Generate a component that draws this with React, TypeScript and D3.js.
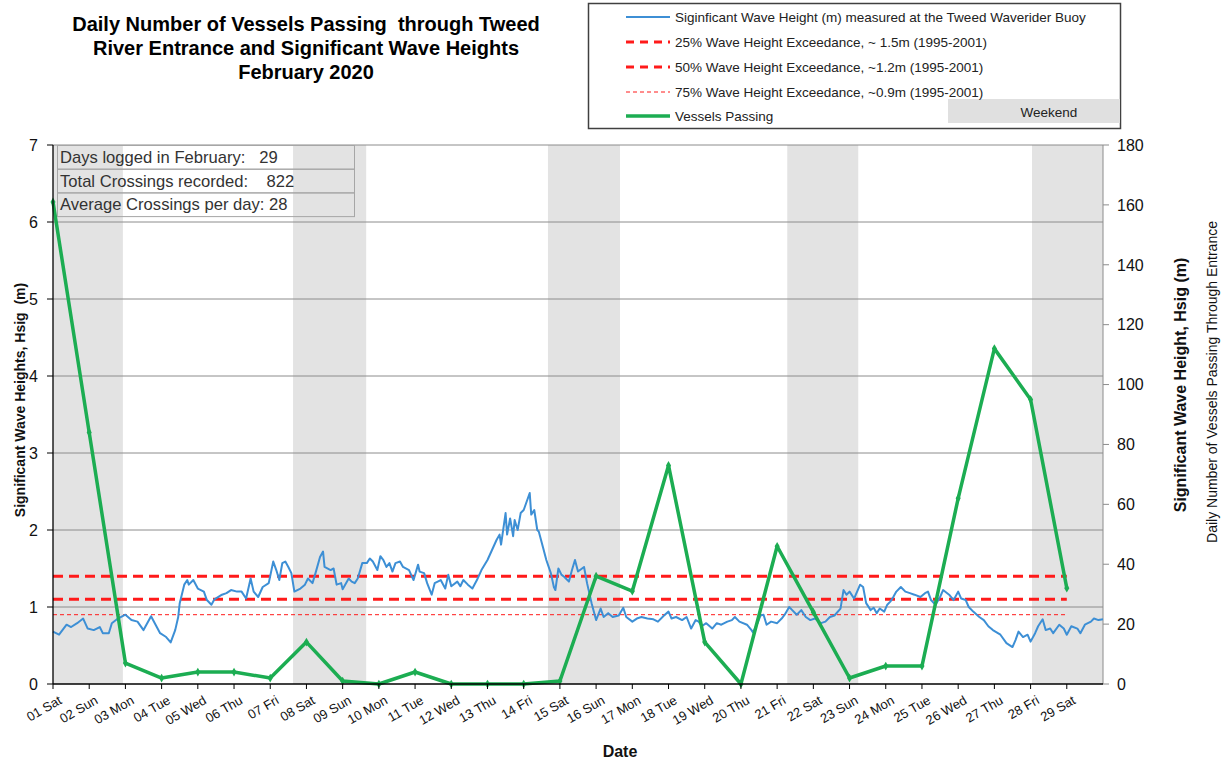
import React, { useEffect, useRef } from "react";
import * as d3 from "d3";

// Day labels for Feb 2020
const dayLabels = [
  "01 Sat", "02 Sun", "03 Mon", "04 Tue", "05 Wed", "06 Thu", "07 Fri",
  "08 Sat", "09 Sun", "10 Mon", "11 Tue", "12 Wed", "13 Thu", "14 Fri",
  "15 Sat", "16 Sun", "17 Mon", "18 Tue", "19 Wed", "20 Thu", "21 Fri",
  "22 Sat", "23 Sun", "24 Mon", "25 Tue", "26 Wed", "27 Thu", "28 Fri",
  "29 Sat",
];

// Daily vessels passing (right axis)
const vessels = [
  161, 84, 7, 2, 4, 4, 2, 14, 1, 0, 4, 0, 0, 0, 1, 36, 31, 73, 14, 0, 46, 24,
  2, 6, 6, 62, 112, 95, 32,
];

// Hsig record: hours since 01 Feb 00:00, height in m
const waveHours = [
  0, 4, 9, 12, 16, 20, 23, 27, 31, 33, 37, 39, 43, 48, 52, 56, 60, 65, 71, 75,
  78, 81, 83, 84, 87, 89, 90, 93, 96, 100, 102, 105, 107, 112, 115, 118, 122,
  125, 128, 131, 133, 136, 139, 143, 146, 148, 150, 152, 154, 156, 158, 160,
  164, 167, 169, 172, 174,
  177, 179, 180, 184, 186, 188, 191, 192, 196, 198, 200, 202, 205, 208, 210,
  212, 215, 217, 219, 221, 223, 225, 227, 230, 232, 236, 239, 242, 243, 246,
  248, 251, 253, 257, 260, 262, 264, 268, 270, 272, 275, 278, 281, 284, 288,
  291, 294, 296, 297, 300, 301, 303, 305, 306, 308, 310, 312, 314, 316, 317,
  319, 321, 322, 325, 327, 330, 332, 333, 335, 337, 339, 342, 344, 346, 348,
  352, 354, 357, 360,
  363, 365, 368, 371, 375, 378, 380, 384, 387, 390, 394, 398, 401, 405, 408,
  410, 413, 417, 420, 423, 426, 428, 430, 433, 437, 440, 443, 447, 450, 452,
  455, 460, 463, 464, 467, 469, 471, 473, 476, 480, 483, 485, 488, 490, 493,
  496, 499, 502, 505, 509, 512, 515, 518, 522, 524, 526, 528, 531, 533,
  535, 537, 539, 542, 544, 546, 548, 551, 553, 555, 557, 559, 562, 565, 568,
  571, 575, 578, 580, 582, 585, 588, 590, 594, 597, 600, 602, 605, 607, 610,
  614, 617, 620, 623, 628, 632, 636, 638, 640, 643, 646, 648, 651, 653, 656,
  658, 661, 663, 667, 670, 672, 675, 679, 681, 684, 688, 690, 693, 696,
];
const waveHsig = [
  0.68, 0.64, 0.77, 0.74, 0.79, 0.85, 0.72, 0.7, 0.74, 0.66, 0.66, 0.79, 0.85,
  0.9, 0.83, 0.81, 0.7, 0.88, 0.66, 0.61, 0.54, 0.7, 0.87, 1.05, 1.29, 1.35,
  1.29, 1.35, 1.24, 1.2, 1.09, 1.03, 1.1, 1.16, 1.18, 1.22, 1.2, 1.2, 1.11,
  1.37, 1.2, 1.13, 1.26, 1.31, 1.59, 1.48, 1.35, 1.57, 1.59, 1.52, 1.44, 1.2,
  1.24, 1.29, 1.37, 1.31, 1.44,
  1.65, 1.72, 1.52, 1.48, 1.5, 1.29, 1.31, 1.23, 1.37, 1.33, 1.31, 1.37, 1.57,
  1.57, 1.63, 1.59, 1.48, 1.66, 1.61, 1.52, 1.57, 1.46, 1.57, 1.59, 1.52, 1.48,
  1.35, 1.55, 1.46, 1.44, 1.31, 1.16, 1.31, 1.35, 1.24, 1.42, 1.27, 1.33, 1.27,
  1.35, 1.29, 1.24, 1.35, 1.48, 1.61, 1.74, 1.87, 1.94, 1.81, 2.22, 1.94, 2.15,
  1.92, 2.13, 2.0, 2.22, 2.26, 2.37, 2.48, 2.2, 2.26, 2.0, 1.98, 1.76, 1.61,
  1.44, 1.26, 1.22, 1.5, 1.42, 1.39, 1.33, 1.48, 1.61, 1.46, 1.52, 1.31, 1.05,
  0.83,
  0.98, 0.87, 0.92, 0.87, 0.89, 0.99, 0.87, 0.81, 0.85, 0.87, 0.85, 0.84, 0.81,
  0.89, 0.94, 0.85, 0.87, 0.83, 0.87, 0.72, 0.83, 0.81, 0.75, 0.79, 0.72, 0.79,
  0.77, 0.81, 0.83, 0.87, 0.81, 0.77, 0.7, 0.67, 0.79, 0.89, 0.9, 0.77, 0.81,
  0.79, 0.85, 0.9, 1.0, 0.96, 0.9, 0.96, 0.87, 0.83, 0.85, 0.79, 0.81, 0.87,
  0.89, 0.98, 1.22, 1.16, 1.2, 1.11, 1.2,
  1.29, 1.26, 1.05, 0.96, 0.99, 0.92, 0.98, 0.94, 1.03, 1.07, 1.13, 1.2, 1.26,
  1.2, 1.18, 1.16, 1.13, 1.18, 1.2, 1.09, 1.03, 1.13, 1.22, 1.16, 1.09, 1.2,
  1.11, 1.09, 1.0, 0.94, 0.87, 0.83, 0.75, 0.7, 0.64, 0.53, 0.48, 0.57, 0.68,
  0.61, 0.64, 0.55, 0.66, 0.75, 0.84, 0.7, 0.72, 0.66, 0.77, 0.72, 0.64, 0.75,
  0.72, 0.66, 0.77, 0.81, 0.85, 0.83, 0.84,
];

// Weekend shading (day units on the x scale)
const weekendStart = [1, 7.63, 14.67, 21.28, 28.04];
const weekendEnd = [2.93, 9.65, 16.66, 23.24, 30];

// Exceedance reference levels (m) as drawn
const exceedLevels = [1.4, 1.1, 0.9];
const exceedLabels = [
  "25% Wave Height Exceedance, ~ 1.5m (1995-2001)",
  "50% Wave Height Exceedance, ~1.2m (1995-2001)",
  "75% Wave Height Exceedance, ~0.9m (1995-2001)",
];

const infoRows = [
  "Days logged in February:   29",
  "Total Crossings recorded:    822",
  "Average Crossings per day: 28",
];

const FONT = "'Liberation Sans', Arial, sans-serif";
const BLUE = "#3d8fd5";
const GREEN = "#1cad52";
const RED = "#ff1a1a";

const App = () => {
  const ref = useRef(null);

  useEffect(() => {
    document.body.style.margin = "0";
    const svg = d3.select(ref.current);
    svg.selectAll("*").remove();

    const left = 53, right = 1103, top = 145, bottom = 684;

    const x = d3.scaleLinear().domain([1, 30]).range([left, right]);
    const yL = d3.scaleLinear().domain([0, 7]).range([bottom, top]);
    const yR = d3.scaleLinear().domain([0, 180]).range([bottom, top]);

    svg.append("rect").attr("width", 1226).attr("height", 763).attr("fill", "#fff");

    // weekend bands
    svg
      .selectAll(".wk")
      .data(weekendStart)
      .enter()
      .append("rect")
      .attr("x", (d) => x(d))
      .attr("y", top)
      .attr("width", (d, i) => x(weekendEnd[i]) - x(d))
      .attr("height", bottom - top)
      .attr("fill", "#e3e3e3");

    // gridlines
    svg
      .selectAll(".grid")
      .data(d3.range(1, 8))
      .enter()
      .append("line")
      .attr("x1", left)
      .attr("x2", right)
      .attr("y1", (d) => yL(d))
      .attr("y2", (d) => yL(d))
      .attr("stroke", "#8c8c8c")
      .attr("stroke-width", 1);

    // right axis line
    svg.append("line").attr("x1", right).attr("x2", right).attr("y1", top).attr("y2", bottom)
      .attr("stroke", "#8c8c8c");

    // info box
    infoRows.forEach((t, i) => {
      svg.append("rect").attr("x", 57.5).attr("y", 145.5 + i * 23.7).attr("width", 297)
        .attr("height", 23.7).attr("fill", "none").attr("stroke", "#a6a6a6");
      svg.append("text").attr("x", 60).attr("y", 163 + i * 23.7).text(t)
        .style("white-space", "pre").style("font-family", FONT).style("font-size", "16.6px")
        .style("fill", "#333");
    });

    // exceedance lines
    const exStyle = [
      { w: 3, dash: "10,6" },
      { w: 3, dash: "10,6" },
      { w: 1, dash: "4,3" },
    ];
    exceedLevels.forEach((v, i) => {
      svg.append("line").attr("x1", x(1)).attr("x2", x(29))
        .attr("y1", yL(v)).attr("y2", yL(v))
        .attr("stroke", RED).attr("stroke-width", exStyle[i].w)
        .attr("stroke-dasharray", exStyle[i].dash);
    });

    // wave height line
    const waveLine = d3
      .line<number>()
      .x((h) => x(1 + h / 24))
      .y((h, i) => yL(waveHsig[i]));
    svg.append("path").datum(waveHours).attr("d", waveLine).attr("fill", "none")
      .attr("stroke", BLUE).attr("stroke-width", 2).attr("stroke-linejoin", "round");

    // vessels line
    const vLine = d3
      .line<number>()
      .x((d, i) => x(i + 1))
      .y((d) => yR(d));
    svg.append("path").datum(vessels).attr("d", vLine).attr("fill", "none")
      .attr("stroke", GREEN).attr("stroke-width", 3.5).attr("stroke-linejoin", "round");
    svg
      .selectAll(".vm")
      .data(vessels)
      .enter()
      .append("path")
      .attr("d", d3.symbol().type(d3.symbolDiamond).size(22))
      .attr("transform", (d, i) => `translate(${x(i + 1)},${yR(d)})`)
      .attr("fill", GREEN);

    // left axis
    svg.append("line").attr("x1", left).attr("x2", left).attr("y1", top).attr("y2", bottom)
      .attr("stroke", "#000").attr("stroke-width", 1.3);
    d3.range(0, 8).forEach((t) => {
      svg.append("line").attr("x1", left - 6).attr("x2", left).attr("y1", yL(t)).attr("y2", yL(t))
        .attr("stroke", "#000");
      svg.append("text").attr("x", 38).attr("y", yL(t)).attr("dy", "0.36em")
        .attr("text-anchor", "end").text(t)
        .style("font-family", FONT).style("font-size", "16px").style("fill", "#111");
    });

    // right axis ticks
    d3.range(0, 181, 20).forEach((t) => {
      svg.append("line").attr("x1", right).attr("x2", right + 6).attr("y1", yR(t)).attr("y2", yR(t))
        .attr("stroke", "#8c8c8c");
      svg.append("text").attr("x", 1117).attr("y", yR(t)).attr("dy", "0.36em")
        .text(t).style("font-family", FONT).style("font-size", "16px").style("fill", "#111");
    });

    // bottom axis
    svg.append("line").attr("x1", left).attr("x2", right).attr("y1", bottom).attr("y2", bottom)
      .attr("stroke", "#000").attr("stroke-width", 1.3);
    dayLabels.forEach((lab, i) => {
      const px = x(i + 1);
      svg.append("line").attr("x1", px).attr("x2", px).attr("y1", bottom).attr("y2", bottom + 5)
        .attr("stroke", "#000");
      svg.append("text")
        .attr("transform", `translate(${px + 5},${bottom + 11}) rotate(-30)`)
        .attr("text-anchor", "end").attr("dy", "0.7em").text(lab)
        .style("font-family", FONT).style("font-size", "13px").style("fill", "#111");
    });

    // axis titles
    svg.append("text").attr("transform", "translate(25,400) rotate(-90)")
      .attr("text-anchor", "middle").text("Significant Wave Heights, Hsig  (m)")
      .style("white-space", "pre").style("font-family", FONT).style("font-size", "14px")
      .style("font-weight", "bold").style("fill", "#111");
    svg.append("text").attr("transform", "translate(1186,385) rotate(-90)")
      .attr("text-anchor", "middle").text("Significant Wave Height, Hsig (m)")
      .style("font-family", FONT).style("font-size", "16px")
      .style("font-weight", "bold").style("fill", "#111");
    svg.append("text").attr("transform", "translate(1217,382) rotate(-90)")
      .attr("text-anchor", "middle").text("Daily Number of Vessels Passing Through Entrance")
      .style("font-family", FONT).style("font-size", "14px").style("fill", "#111");
    svg.append("text").attr("x", 620).attr("y", 757).attr("text-anchor", "middle").text("Date")
      .style("font-family", FONT).style("font-size", "16px").style("font-weight", "bold")
      .style("fill", "#111");

    // title
    const titleLines = [
      "Daily Number of Vessels Passing  through Tweed",
      "River Entrance and Significant Wave Heights",
      "February 2020",
    ];
    titleLines.forEach((t, i) => {
      svg.append("text").attr("x", 306).attr("y", 31 + i * 24).attr("text-anchor", "middle")
        .text(t).style("white-space", "pre").style("font-family", FONT).style("font-size", "20px")
        .style("font-weight", "bold").style("fill", "#000");
    });

    // legend
    const lg = svg.append("g");
    lg.append("rect").attr("x", 588.5).attr("y", 3.5).attr("width", 532).attr("height", 125)
      .attr("fill", "#fff").attr("stroke", "#404040").attr("stroke-width", 1.5);
    lg.append("rect").attr("x", 948).attr("y", 99).attr("width", 172).attr("height", 24)
      .attr("fill", "#e0e0e0");
    lg.append("text").attr("x", 1049).attr("y", 112).attr("dy", "0.35em").attr("text-anchor", "middle")
      .text("Weekend").style("font-family", FONT).style("font-size", "13.5px").style("fill", "#222");
    const rows = [
      { label: "Siginficant Wave Height (m) measured at the Tweed Waverider Buoy", color: BLUE, w: 2, dash: null },
      { label: exceedLabels[0], color: RED, w: 3, dash: "8,6" },
      { label: exceedLabels[1], color: RED, w: 3, dash: "8,6" },
      { label: exceedLabels[2], color: RED, w: 1, dash: "4,3" },
      { label: "Vessels Passing", color: GREEN, w: 3.5, dash: null },
    ];
    const rowY = [17, 42, 67, 92, 116];
    rows.forEach((r, i) => {
      lg.append("line").attr("x1", 626).attr("x2", 670).attr("y1", rowY[i]).attr("y2", rowY[i])
        .attr("stroke", r.color).attr("stroke-width", r.w)
        .attr("stroke-dasharray", r.dash);
      lg.append("text").attr("x", 675).attr("y", rowY[i]).attr("dy", "0.35em").text(r.label)
        .style("font-family", FONT).style("font-size", "13.5px").style("fill", "#222");
    });
  }, []);

  return <svg ref={ref} width={1226} height={763} style={{ display: "block" }}></svg>;
};

export default App;
